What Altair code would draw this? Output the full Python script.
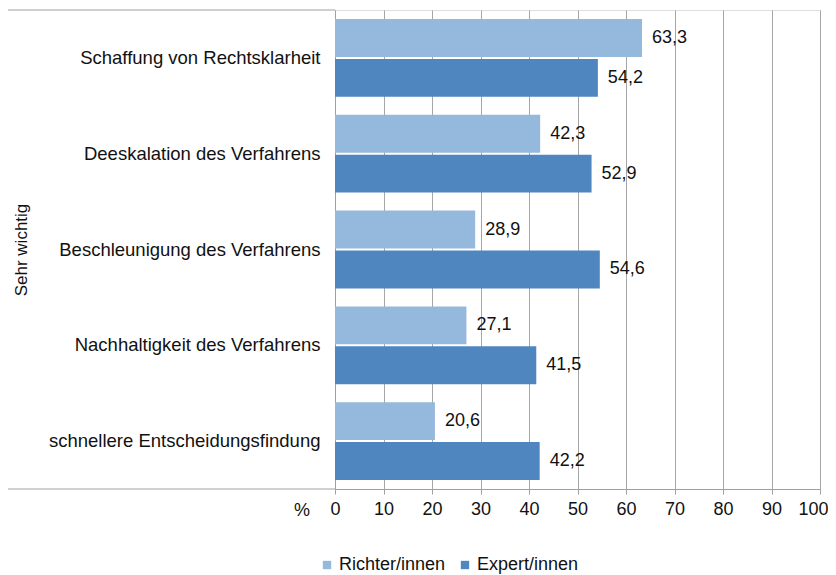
import altair as alt
import pandas as pd

categories = ["Schaffung von Rechtsklarheit", "Deeskalation des Verfahrens",
              "Beschleunigung des Verfahrens", "Nachhaltigkeit des Verfahrens",
              "schnellere Entscheidungsfindung"]
series = ["Richter/innen", "Expert/innen"]
richter = [63.3, 42.3, 28.9, 27.1, 20.6]
experten = [54.2, 52.9, 54.6, 41.5, 42.2]
ticks = [0, 10, 20, 30, 40, 50, 60, 70, 80, 90, 100]

rows = []
for c, r, e in zip(categories, richter, experten):
    rows.append({"cat": c, "ser": series[0], "val": r, "lab": f"{r:.1f}".replace(".", ",")})
    rows.append({"cat": c, "ser": series[1], "val": e, "lab": f"{e:.1f}".replace(".", ",")})
df = pd.DataFrame(rows)
one = pd.DataFrame({"k": [0]})

FONT = "Liberation Sans"
TXT = "#111111"
W, H = 485, 479

y_enc = alt.Y("cat:N", sort=categories,
              scale=alt.Scale(paddingInner=0, paddingOuter=0),
              axis=alt.Axis(title="Sehr wichtig", titleFontSize=17, titleFont=FONT,
                            titleFontWeight="normal", titleColor=TXT,
                            titleX=-314, titleY=H / 2, titleAngle=-90,
                            titleAlign="center", titleBaseline="middle",
                            labelFontSize=18.5, labelFont=FONT, labelColor=TXT,
                            labelPadding=15, ticks=False, domainColor="#a0a0a0",
                            labelLimit=400))
yoff = alt.YOffset("ser:N", sort=series,
                   scale=alt.Scale(paddingOuter=0.225, paddingInner=0.05))

bars = alt.Chart(df).mark_bar().encode(
    x=alt.X("val:Q", scale=alt.Scale(domain=[0, 100]),
            axis=alt.Axis(values=ticks, title=None, grid=True, gridColor="#a6a6a6",
                          domainColor="#a0a0a0", tickColor="#a0a0a0", tickSize=5,
                          labelFontSize=18, labelFont=FONT, labelColor=TXT,
                          labelPadding=6, labelFlush=False, labelOverlap=False,
                          labelAlign={"condition": {"test": "datum.value == 100", "value": "right"},
                                      "value": "center"},
                          labelOffset={"condition": {"test": "datum.value == 100", "value": 8},
                                       "value": 0})),
    y=y_enc,
    yOffset=yoff,
    color=alt.Color("ser:N", sort=series,
                    scale=alt.Scale(domain=series, range=["#95b8dd", "#4f86c0"]),
                    legend=alt.Legend(title=None, orient="none", legendX=-17, legendY=546,
                                      direction="horizontal", symbolType="square",
                                      symbolSize=70, labelFontSize=18, labelFont=FONT,
                                      labelColor=TXT, labelOffset=3,
                                      columnPadding=10, symbolStrokeWidth=0)),
)

labels = alt.Chart(df).mark_text(align="left", baseline="middle", dx=10,
                                 fontSize=18, font=FONT, color=TXT).encode(
    x="val:Q", y=alt.Y("cat:N", sort=categories), yOffset=yoff, text="lab:N")

top_rule = alt.Chart(one).mark_rule(color="#a0a0a0").encode(
    x=alt.value(-328), x2=alt.value(0), y=alt.value(0))
bot_rule = alt.Chart(one).mark_rule(color="#a0a0a0").encode(
    x=alt.value(-328), x2=alt.value(0), y=alt.value(H))
pct = alt.Chart(one).mark_text(text="%", fontSize=18, font=FONT, color=TXT,
                               fontWeight="normal",
                               baseline="middle", align="center").encode(
    x=alt.value(-33), y=alt.value(H + 22))

chart = alt.layer(bars, labels, top_rule, bot_rule, pct).properties(
    width=W, height=H,
    autosize=alt.AutoSizeParams(type="none"),
    padding={"left": 327, "top": 2, "right": 8, "bottom": 90},
).configure_view(stroke=None).configure(background="white")

chart.save("out.html", embed_options={"renderer": "svg", "actions": False})
